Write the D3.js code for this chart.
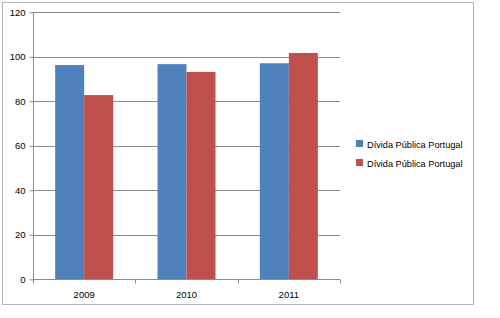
<!DOCTYPE html>
<html>
<head>
<meta charset="utf-8">
<script src="https://cdn.jsdelivr.net/npm/d3@7"></script>
<style>
  body { margin: 0; background: #fff; }
  svg { display: block; font-family: "Liberation Sans", Arial, sans-serif; }
</style>
</head>
<body>
<script>
var years = ["2009", "2010", "2011"];
var seriesNames = ["Dívida Pública Portugal", "Dívida Pública Portugal"];
var blueValues = [96.3, 96.7, 97.1];
var redValues = [82.8, 93.2, 101.7];
var yTicks = [0, 20, 40, 60, 80, 100, 120];

var colors = ["#4f81bd", "#c0504d"];
var series = [blueValues, redValues];

var width = 500, height = 318;
var svg = d3.select("body").append("svg").attr("width", width).attr("height", height);

// outer chart border
svg.append("rect").attr("x", 2.5).attr("y", 2.5).attr("width", 471).attr("height", 302)
  .attr("fill", "#fff").attr("stroke", "#b5b5b5");

var plotLeft = 33, plotRight = 340, plotTop = 12.3, plotBottom = 279.3;

var x = d3.scaleBand().domain(years).range([plotLeft, plotRight]).padding(0);
var y = d3.scaleLinear().domain([0, 120]).range([plotBottom, plotTop]);

// gridlines
svg.append("g").selectAll("line").data(yTicks.slice(1)).join("line")
  .attr("x1", plotLeft).attr("x2", plotRight)
  .attr("y1", d => Math.round(y(d)) + 0.5).attr("y2", d => Math.round(y(d)) + 0.5)
  .attr("stroke", "#8c8c8c");

// bars
var barW = 29;
series.forEach(function(vals, s) {
  svg.append("g").selectAll("rect").data(vals).join("rect")
    .attr("x", (d, i) => x(years[i]) + x.bandwidth() / 2 - barW + s * barW)
    .attr("width", barW)
    .attr("y", d => y(d))
    .attr("height", d => y(0) - y(d))
    .attr("fill", colors[s]);
});

// y axis
var yAxis = svg.append("g").attr("transform", "translate(" + (plotLeft + 0.5) + ",0)")
  .call(d3.axisLeft(y).tickValues(yTicks).tickSize(4).tickPadding(4));
yAxis.selectAll("line, path").attr("stroke", "#8c8c8c");
yAxis.select("path").attr("d", "M0," + plotTop + "V" + plotBottom);
yAxis.selectAll("text").attr("font-size", 9.5).attr("fill", "#000")
  .attr("font-family", "Liberation Sans, Arial, sans-serif");

// x axis
var xAxis = svg.append("g").attr("transform", "translate(0," + (Math.round(plotBottom) + 0.5) + ")");
xAxis.append("line").attr("x1", plotLeft).attr("x2", plotRight).attr("stroke", "#8c8c8c");
xAxis.selectAll(".tk").data(x.domain().concat(["end"])).join("line")
  .attr("class", "tk")
  .attr("x1", (d, i) => Math.round(plotLeft + i * x.bandwidth()) + 0.5)
  .attr("x2", (d, i) => Math.round(plotLeft + i * x.bandwidth()) + 0.5)
  .attr("y1", 0).attr("y2", 4).attr("stroke", "#8c8c8c");
xAxis.selectAll("text").data(years).join("text")
  .attr("x", d => x(d) + x.bandwidth() / 2)
  .attr("y", 18)
  .attr("text-anchor", "middle")
  .attr("font-size", 9.5)
  .text(d => d);

// legend
var legend = svg.append("g").selectAll("g").data(seriesNames).join("g")
  .attr("transform", (d, i) => "translate(356," + (140 + i * 19) + ")");
legend.append("rect").attr("width", 7).attr("height", 7).attr("fill", (d, i) => colors[i]);
legend.append("text").attr("x", 11).attr("y", 7.5).attr("font-size", 9.2).text(d => d);
</script>
</body>
</html>
